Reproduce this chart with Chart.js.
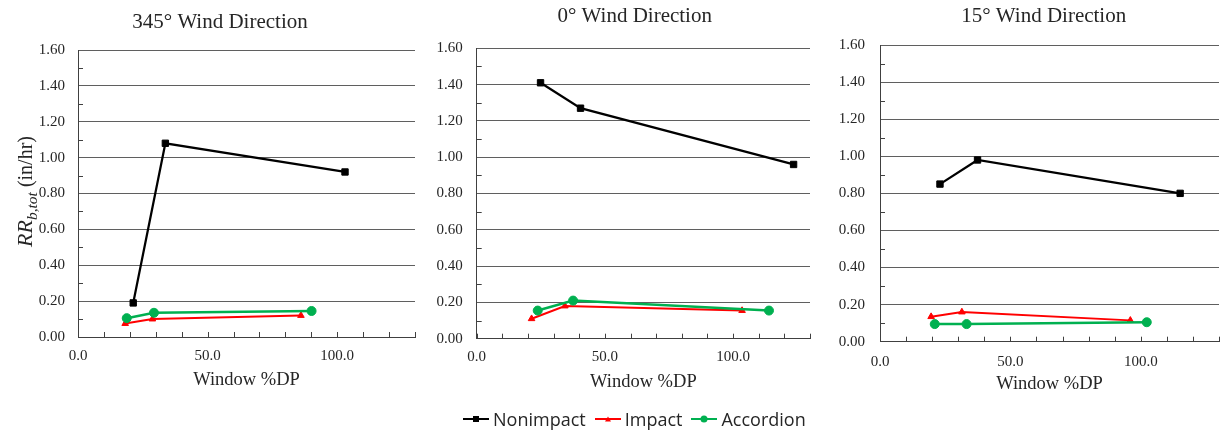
<!DOCTYPE html>
<html>
<head>
<meta charset="utf-8">
<script src="https://cdn.jsdelivr.net/npm/chart.js@4.4.1/dist/chart.umd.min.js"></script>
<style>
  html, body { margin: 0; padding: 0; background: #fff; }
  body { position: relative; width: 1220px; height: 431px; overflow: hidden; }
  canvas.panel { position: absolute; top: 0; }
  #legend {
    position: absolute; top: 407px; left: 463px;
    display: flex; align-items: center;
    font-family: "Open Sans", "Liberation Sans", sans-serif; font-size: 18px; color: #262626;
    white-space: nowrap; line-height: 24px;
  }
  .item { display: flex; align-items: center; margin-right: 9px; }
  .swatch { position: relative; width: 26px; height: 24px; margin-right: 4px; }
  .swatch .ln { position: absolute; left: 0; right: 0; top: 11px; height: 2px; }
  .swatch .mk { position: absolute; left: 50%; top: 12px; transform: translate(-50%, -50%); }
</style>
</head>
<body>
<canvas class="panel" id="c0" width="440" height="395" style="left:0px"></canvas>
<canvas class="panel" id="c1" width="420" height="395" style="left:425px"></canvas>
<canvas class="panel" id="c2" width="400" height="395" style="left:830px"></canvas>
<div id="legend"></div>

<script>
// ---- Data ----
const seriesNames = ['Nonimpact', 'Impact', 'Accordion'];
const panelTitles = ['345\u00B0 Wind Direction', '0\u00B0 Wind Direction', '15\u00B0 Wind Direction'];
const xAxisTitle = 'Window %DP';

// 345° wind direction
const nonimpact345X = [21.3, 33.7, 103.0];
const nonimpact345Y = [0.19, 1.08, 0.92];
const impact345X = [18.2, 28.7, 86.0];
const impact345Y = [0.075, 0.10, 0.12];
const accordion345X = [18.8, 29.3, 90.1];
const accordion345Y = [0.105, 0.135, 0.145];

// 0° wind direction
const nonimpact0X = [24.9, 40.5, 123.6];
const nonimpact0Y = [1.41, 1.27, 0.96];
const impact0X = [21.4, 34.4, 103.5];
const impact0Y = [0.11, 0.18, 0.155];
const accordion0X = [23.8, 37.6, 114.0];
const accordion0Y = [0.155, 0.21, 0.155];

// 15° wind direction
const nonimpact15X = [23.0, 37.4, 115.1];
const nonimpact15Y = [0.85, 0.98, 0.80];
const impact15X = [19.6, 31.4, 96.0];
const impact15Y = [0.135, 0.16, 0.115];
const accordion15X = [21.0, 33.2, 102.3];
const accordion15Y = [0.095, 0.095, 0.105];

// Axis ranges and tick spacing
const xMin = 0, xMax = 130, xStep = 10, xLabelEvery = 50;
const yMin = 0, yMax = 1.6, yStep = 0.1;

// ---- Styling ----
const seriesStyles = [
  { color: '#000000', width: 2.25, pointStyle: 'rect', radius: 4.5, order: 2 },
  { color: '#FF0000', width: 2, pointStyle: 'triangle', radius: 3.8, order: 1 },
  { color: '#00B050', width: 2.5, pointStyle: 'circle', radius: 4.5, order: 0 }
];
const serif = "'Liberation Serif', 'Times New Roman', serif";
const textColor = '#262626';
const gridColor = '#5f5f5f';
const axisColor = '#404040';

// Per-panel geometry (canvas-relative pixels)
const panelLayouts = [
  { canvas: 'c0', width: 440, plotLeft: 78, plotRight: 415, plotTop: 50, plotBottom: 337,
    titleX: 220, titleY: 22, xTitleY: 380, yPad: 13, xPad: 10, yTitle: true },
  { canvas: 'c1', width: 420, plotLeft: 51.7, plotRight: 385, plotTop: 48.3, plotBottom: 338.7,
    titleX: 209.7, titleY: 16, xTitleY: 382, yPad: 14, xPad: 9, yTitle: false },
  { canvas: 'c2', width: 400, plotLeft: 50, plotRight: 394.5, plotTop: 45, plotBottom: 341.7,
    titleX: 213.7, titleY: 16, xTitleY: 384, yPad: 15, xPad: 11, yTitle: false }
];
const canvasHeight = 395;

const panelSeries = [
  [[nonimpact345X, nonimpact345Y], [impact345X, impact345Y], [accordion345X, accordion345Y]],
  [[nonimpact0X, nonimpact0Y], [impact0X, impact0Y], [accordion0X, accordion0Y]],
  [[nonimpact15X, nonimpact15Y], [impact15X, impact15Y], [accordion15X, accordion15Y]]
];

const isMajorY = v => Math.round(v * 10) % 2 === 0;
const toPoints = (xs, ys) => xs.map((x, i) => ({ x, y: ys[i] }));

// Inner tick marks, panel titles and axis titles
const panelDecor = {
  id: 'panelDecor',
  beforeDatasetsDraw(chart, args, opts) {
    const { ctx, chartArea: a } = chart;
    const xs = chart.scales.x, ys = chart.scales.y;
    ctx.save();
    ctx.strokeStyle = axisColor;
    ctx.lineWidth = 1;
    ctx.beginPath();
    xs.ticks.forEach(t => {
      const px = Math.round(xs.getPixelForValue(t.value)) + 0.5;
      ctx.moveTo(px, a.bottom);
      ctx.lineTo(px, a.bottom - 5);
    });
    ys.ticks.forEach(t => {
      if (!isMajorY(t.value)) {
        const py = Math.round(ys.getPixelForValue(t.value)) + 0.5;
        ctx.moveTo(a.left, py);
        ctx.lineTo(a.left + 5, py);
      }
    });
    ctx.stroke();
    ctx.restore();
  },
  afterDraw(chart, args, opts) {
    const { ctx, chartArea: a } = chart;
    ctx.save();
    ctx.fillStyle = textColor;
    ctx.textAlign = 'center';
    ctx.textBaseline = 'middle';
    ctx.font = '21px ' + serif;
    ctx.fillText(opts.title, opts.titleX, opts.titleY);
    ctx.font = '18.5px ' + serif;
    ctx.fillText(xAxisTitle, (a.left + a.right) / 2, opts.xTitleY);

    if (opts.yTitle) {
      // RR_{b,tot} (in/hr), rotated
      const main = 'RR', sub = 'b,tot', unit = ' (in/hr)';
      const fMain = 'italic 22px ' + serif;
      const fSub = 'italic 15.5px ' + serif;
      const fUnit = '20px ' + serif;
      ctx.font = fMain; const w1 = ctx.measureText(main).width;
      ctx.font = fSub; const w2 = ctx.measureText(sub).width;
      ctx.font = fUnit; const w3 = ctx.measureText(unit).width;
      const total = w1 + w2 + w3;
      const cy = (a.top + a.bottom) / 2 - 2;
      ctx.translate(32, cy + total / 2);
      ctx.rotate(-Math.PI / 2);
      ctx.textAlign = 'left';
      ctx.textBaseline = 'alphabetic';
      ctx.font = fMain; ctx.fillText(main, 0, 0);
      ctx.font = fSub; ctx.fillText(sub, w1, 5);
      ctx.font = fUnit; ctx.fillText(unit, w1 + w2, 0);
    }
    ctx.restore();
  }
};

panelLayouts.forEach((L, p) => {
  const datasets = seriesNames.map((name, s) => {
    const st = seriesStyles[s];
    const [xs, ys] = panelSeries[p][s];
    return {
      label: name,
      data: toPoints(xs, ys),
      showLine: true,
      borderColor: st.color,
      backgroundColor: st.color,
      borderWidth: st.width,
      pointStyle: st.pointStyle,
      pointRadius: st.radius,
      pointBorderWidth: 1,
      pointHoverRadius: st.radius,
      tension: 0,
      order: st.order,
      clip: false
    };
  });

  new Chart(document.getElementById(L.canvas), {
    type: 'scatter',
    data: { datasets },
    plugins: [panelDecor],
    options: {
      responsive: false,
      animation: false,
      events: [],
      layout: { padding: { top: L.plotTop, right: L.width - L.plotRight, left: 0, bottom: 0 } },
      plugins: {
        legend: { display: false },
        title: { display: false },
        tooltip: { enabled: false },
        panelDecor: {
          title: panelTitles[p], titleX: L.titleX, titleY: L.titleY,
          xTitleY: L.xTitleY, yTitle: L.yTitle
        }
      },
      scales: {
        x: {
          type: 'linear', min: xMin, max: xMax,
          afterFit: sc => { sc.height = canvasHeight - L.plotBottom; },
          border: { display: true, color: axisColor, width: 1 },
          grid: { display: true, drawOnChartArea: false, drawTicks: false },
          ticks: {
            stepSize: xStep, autoSkip: false, maxRotation: 0, padding: L.xPad,
            color: textColor, font: { family: serif, size: 15 },
            callback: v => (Math.round(v) % xLabelEvery === 0 ? v.toFixed(1) : '')
          }
        },
        y: {
          type: 'linear', min: yMin, max: yMax,
          afterFit: sc => { sc.width = L.plotLeft; },
          border: { display: true, color: axisColor, width: 1 },
          grid: {
            drawTicks: false,
            color: ctx => (ctx.tick && isMajorY(ctx.tick.value) ? gridColor : 'rgba(0,0,0,0)'),
            lineWidth: 1
          },
          ticks: {
            stepSize: yStep, autoSkip: false, padding: L.yPad,
            color: textColor, font: { family: serif, size: 15 },
            callback: v => (isMajorY(v) ? v.toFixed(2) : '')
          }
        }
      }
    }
  });
});

// Shared legend
const legend = document.getElementById('legend');
seriesNames.forEach((name, s) => {
  const st = seriesStyles[s];
  const item = document.createElement('div');
  item.className = 'item';
  const sw = document.createElement('div');
  sw.className = 'swatch';
  const ln = document.createElement('div');
  ln.className = 'ln';
  ln.style.background = st.color;
  const mk = document.createElement('div');
  mk.className = 'mk';
  if (st.pointStyle === 'rect') {
    mk.style.width = '6px'; mk.style.height = '6px'; mk.style.background = st.color;
  } else if (st.pointStyle === 'circle') {
    mk.style.width = '7px'; mk.style.height = '7px'; mk.style.borderRadius = '50%'; mk.style.background = st.color;
  } else {
    mk.style.width = '0'; mk.style.height = '0';
    mk.style.borderLeft = '3px solid transparent';
    mk.style.borderRight = '3px solid transparent';
    mk.style.borderBottom = '5px solid ' + st.color;
  }
  sw.appendChild(ln); sw.appendChild(mk);
  const tx = document.createElement('span');
  tx.textContent = name;
  item.appendChild(sw); item.appendChild(tx);
  legend.appendChild(item);
});
</script>
</body>
</html>
